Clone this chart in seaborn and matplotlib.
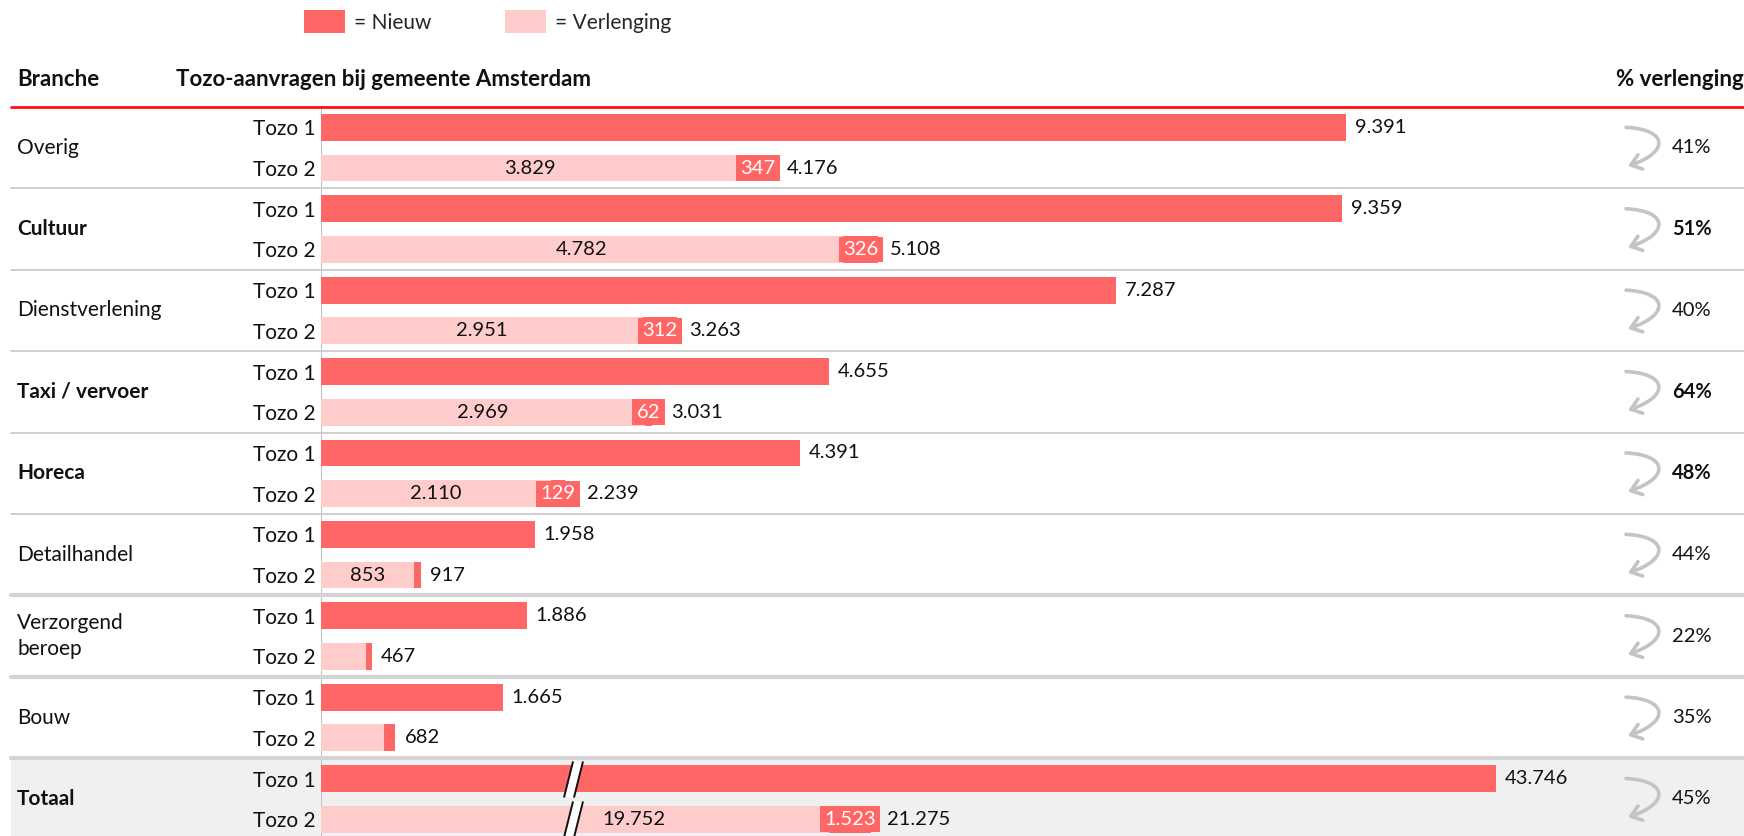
import numpy as np
import pandas as pd
import matplotlib
matplotlib.use("Agg")
import matplotlib.pyplot as plt
import matplotlib.transforms as mtransforms
from matplotlib.patches import FancyArrowPatch, Patch, Rectangle
from matplotlib.lines import Line2D
from matplotlib.path import Path
import seaborn as sns

# Data
branches = ["Overig", "Cultuur", "Dienstverlening", "Taxi / vervoer", "Horeca",
            "Detailhandel", "Verzorgend\nberoep", "Bouw"]
tozo1 = [9391, 9359, 7287, 4655, 4391, 1958, 1886, 1665]
tozo2_verlenging = [3829, 4782, 2951, 2969, 2110, 853, 415, 580]
tozo2_nieuw = [347, 326, 312, 62, 129, 64, 52, 102]
pct_verlenging = [41, 51, 40, 64, 48, 44, 22, 35]
bold_rows = [False, True, False, True, True, False, False, False]
show_new_label = [True, True, True, True, True, False, False, False]
show_verl_label = [True, True, True, True, True, True, False, False]
tozo_labels = ["Tozo 1", "Tozo 2"]

totaal_label = "Totaal"
totaal_tozo1 = 43746
totaal_verlenging = 19752
totaal_nieuw = 1523
totaal_pct = 45

DARK = "#ff6666"
LIGHT = "#ffcccc"
FS = 15
FS_HEAD = 16
FS_NUM = 14.5


def nl(v):
    return f"{v:,}".replace(",", ".")


# Layout helpers (pixels of the 1744x836 canvas)
W, H = 1744, 836
def fx(px):
    return px / W
def fy(py):
    return 1 - py / H

AX_L, AX_R = 321, 1560
TOP, GROUP = 107, 81.4

sns.set_theme(style="white")
plt.rcParams["font.family"] = ["Lato", "DejaVu Sans"]

fig = plt.figure(figsize=(17.44, 8.36), dpi=100)
ax = fig.add_axes([fx(AX_L), fy(TOP + 8 * GROUP), (AX_R - AX_L) / W, 8 * GROUP / H])
ax_t = fig.add_axes([fx(AX_L), fy(TOP + 9 * GROUP), (AX_R - AX_L) / W, GROUP / H])
ax.set_facecolor("none")
ax_t.set_facecolor("none")

# Totaal background
fig.add_artist(Rectangle((fx(11), 0), 1 - fx(11), fy(TOP + 8 * GROUP), transform=fig.transFigure,
                         facecolor="#f0f0f0", edgecolor="none", zorder=-1))

# Main bars
keys, totals, verls = [], [], []
for b, t1, v, n in zip(branches, tozo1, tozo2_verlenging, tozo2_nieuw):
    keys += [b + "|1", b + "|2"]
    totals += [t1, v + n]
    verls += [0, v]
df = pd.DataFrame({"rij": keys, "totaal": totals, "verlenging": verls})

sns.barplot(data=df, y="rij", x="totaal", order=keys, color=DARK, saturation=1,
            width=0.66, linewidth=0, errorbar=None, orient="h", ax=ax)
sns.barplot(data=df, y="rij", x="verlenging", order=keys, color=LIGHT, saturation=1,
            width=0.66, linewidth=0, errorbar=None, orient="h", ax=ax)
ax.set_xlim(0, (AX_R - AX_L) / 0.10913)
ax.set_ylim(15.5, -0.5)

# Totaal bars (broken scale)
df_t = pd.DataFrame({"rij": ["T|1", "T|2"],
                     "totaal": [totaal_tozo1, totaal_verlenging + totaal_nieuw],
                     "verlenging": [0, totaal_verlenging]})
sns.barplot(data=df_t, y="rij", x="totaal", order=["T|1", "T|2"], color=DARK, saturation=1,
            width=0.66, linewidth=0, errorbar=None, orient="h", ax=ax_t)
sns.barplot(data=df_t, y="rij", x="verlenging", order=["T|1", "T|2"], color=LIGHT, saturation=1,
            width=0.66, linewidth=0, errorbar=None, orient="h", ax=ax_t)

brk = 10564
pre = 252 / brk
post = 0.02782

def fwd(x):
    x = np.asarray(x, dtype=float)
    return np.where(x < brk, x * pre, brk * pre + (x - brk) * post)

def inv(y):
    y = np.asarray(y, dtype=float)
    return np.where(y < brk * pre, y / pre, brk + (y - brk * pre) / post)

ax_t.set_xscale("function", functions=(fwd, inv))

for a, n in ((ax, 8), (ax_t, 1)):
    a.set_xticks([])
    a.set_yticks(range(2 * n))
    a.set_yticklabels(tozo_labels * n, fontsize=FS, color="#111111")
    a.tick_params(axis="y", length=0, pad=4)
    a.set_xlabel("")
    a.set_ylabel("")
    a.axvline(0, color="#c0c0c0", lw=1.5, zorder=0)
sns.despine(ax=ax, left=True, bottom=True)
sns.despine(ax=ax_t, left=True, bottom=True)

# Break marks
slash = Path([(-0.25, -1), (0.25, 1)])
for r in (0, 1):
    ax_t.plot([brk], [r], marker=slash, markersize=26, mec="white", mew=6, ls="none", zorder=5)
    for dx in (-3.3, 3.3):
        tr = mtransforms.offset_copy(ax_t.transData, fig=fig, x=dx, y=0, units="points")
        ax_t.plot([brk], [r], marker=slash, markersize=26, mec="#111111", mew=1.4, ls="none",
                  transform=tr, zorder=6)
ax_t.set_xlim(0, float(inv(AX_R - AX_L)))
ax_t.set_ylim(1.5, -0.5)

# Labels per row
adjust = []
def row_labels(a, r1, t1, v, n, show_v, show_n, broken=False):
    a.annotate(nl(t1), xy=(t1, r1), xytext=(6.5, 0), textcoords="offset points",
               ha="left", va="center", fontsize=FS_NUM, color="#111111")
    if show_v and broken:
        a.annotate(nl(v), xy=(brk, r1 + 1), xytext=(21, 0), textcoords="offset points",
                   ha="left", va="center", fontsize=FS_NUM, color="#111111", zorder=7)
    elif show_v:
        a.text(v / 2, r1 + 1, nl(v), ha="center", va="center", fontsize=FS_NUM, color="#111111")
    lab = a.annotate(nl(v + n), xy=(v + n, r1 + 1), xytext=(6.5, 0), textcoords="offset points",
                     ha="left", va="center", fontsize=FS_NUM, color="#111111")
    if show_n:
        box = a.text(v + n / 2, r1 + 1, nl(n), ha="center", va="center", fontsize=FS_NUM, color="white",
                     bbox=dict(facecolor=DARK, edgecolor="none", boxstyle="square,pad=0.22"), zorder=4)
        adjust.append((a, box, lab, v + n, r1 + 1))

for g in range(8):
    row_labels(ax, 2 * g, tozo1[g], tozo2_verlenging[g], tozo2_nieuw[g],
               show_verl_label[g], show_new_label[g])
row_labels(ax_t, 0, totaal_tozo1, totaal_verlenging, totaal_nieuw, True, True, broken=True)

# Branch names, arrows and percentages
def side(a, yc, name, pct, bold, pct_bold, r1):
    tr = mtransforms.blended_transform_factory(fig.transFigure, a.transData)
    a.text(fx(17), yc, name, transform=tr, ha="left", va="center", fontsize=FS,
           fontweight="bold" if bold else "normal", color="#111111", linespacing=1.4, clip_on=False)
    a.text(fx(1672), yc, f"{pct}%", transform=tr, ha="left", va="center", fontsize=FS_NUM,
           fontweight="bold" if pct_bold else "normal", color="#111111", clip_on=False)
    # curved arrow in display pixels, from the Tozo 1 row to the Tozo 2 row
    x0, ya = tr.transform((fx(1626), r1))
    _, yb = tr.transform((fx(1626), r1 + 0.95))
    verts = [(x0, ya), (x0 + 42, ya - 2), (x0 + 44, yb + 14), (x0 + 2, yb)]
    arc = Path(verts, [Path.MOVETO, Path.CURVE4, Path.CURVE4, Path.CURVE4])
    arr = FancyArrowPatch(path=arc, transform=mtransforms.IdentityTransform(),
                          arrowstyle="->,head_length=0.6,head_width=0.45", mutation_scale=12,
                          color="#c4c4c4", lw=2.6)
    fig.add_artist(arr)

for g in range(8):
    side(ax, 2 * g + 0.5, branches[g], pct_verlenging[g], bold_rows[g], bold_rows[g], 2 * g)
side(ax_t, 0.5, totaal_label, totaal_pct, True, False, 0)

# Separators
tr_main = mtransforms.blended_transform_factory(fig.transFigure, ax.transData)
for yb in np.arange(1.5, 16, 2):
    thick = yb in (11.5, 13.5, 15.5)
    fig.add_artist(Line2D([fx(11), 1], [yb, yb], transform=tr_main,
                          color="#d4d4d4" if thick else "#cccccc", lw=3 if thick else 1.3, zorder=1))
fig.add_artist(Line2D([fx(11), 1], [-0.5, -0.5], transform=tr_main, color="#ff1010", lw=2, zorder=2))

# Headers
hy = fy(79)
fig.text(fx(17), hy, "Branche", fontsize=FS_HEAD, fontweight="bold", va="center", color="#111111")
fig.text(fx(176), hy, "Tozo-aanvragen bij gemeente Amsterdam", fontsize=FS_HEAD, fontweight="bold",
         va="center", color="#111111")
fig.text(fx(1616), hy, "% verlenging", fontsize=FS_HEAD, fontweight="bold", va="center", color="#111111")

# Legend
fig.legend(handles=[Patch(facecolor=DARK, edgecolor="none"), Patch(facecolor=LIGHT, edgecolor="none")],
           labels=["= Nieuw", "= Verlenging"], loc="upper left", bbox_to_anchor=(fx(304), fy(10)),
           ncol=2, frameon=False, handlelength=1.97, handleheight=1.33, handletextpad=0.45,
           columnspacing=3.5, borderpad=0, borderaxespad=0, fontsize=FS)

# Move total labels past the dark label boxes
fig.canvas.draw()
renderer = fig.canvas.get_renderer()
for a, box, lab, end, row in adjust:
    bar_px = a.transData.transform((end, row))[0]
    right = box.get_bbox_patch().get_window_extent(renderer).x1
    off = max(right, bar_px) - bar_px + 7
    lab.xyann = (off * 72 / fig.dpi, 0)

fig.savefig("out.png", dpi=100)
